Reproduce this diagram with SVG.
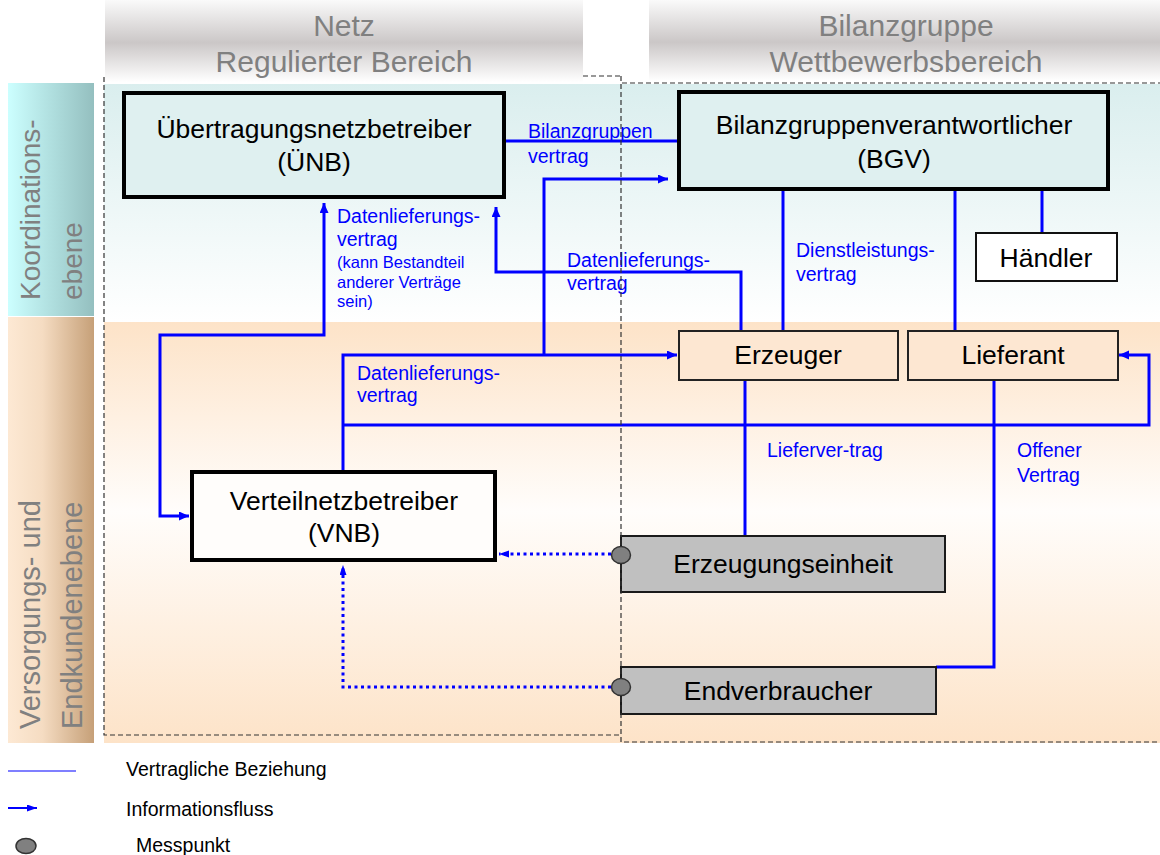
<svg xmlns="http://www.w3.org/2000/svg" width="1160" height="855" viewBox="0 0 1160 855">
<style>
.hdr{font-family:"Liberation Sans",Arial,sans-serif;font-size:30px;fill:#808080;text-anchor:middle}
.side{font-family:"Liberation Sans",Arial,sans-serif;fill:#808080}
.box{font-family:"Liberation Sans",Arial,sans-serif;font-size:26.5px;fill:#000;text-anchor:middle}
.lbl{font-family:"Liberation Sans",Arial,sans-serif;font-size:19.5px;fill:#0000ff}
.sm{font-family:"Liberation Sans",Arial,sans-serif;font-size:16.5px;fill:#0000ff}
.leg{font-family:"Liberation Sans",Arial,sans-serif;font-size:19.5px;fill:#000}
.c{fill:none;stroke:#0000ff;stroke-width:3}
.d{fill:none;stroke:#0000ff;stroke-width:3;stroke-dasharray:3 3.5}
.dash{fill:none;stroke:#333;stroke-width:1.2;stroke-dasharray:5 3}
.mp{fill:#808080;stroke:#333;stroke-width:1.5}
</style>
<defs>
<linearGradient id="gHdr" x1="0" y1="0" x2="0" y2="1">
<stop offset="0" stop-color="#fafafa"/><stop offset="0.52" stop-color="#cbc7c7"/><stop offset="1" stop-color="#ffffff"/>
</linearGradient>
<linearGradient id="gTop" x1="0" y1="0" x2="0" y2="1">
<stop offset="0" stop-color="#daeeee"/><stop offset="1" stop-color="#ffffff"/>
</linearGradient>
<linearGradient id="gBot" x1="0" y1="0" x2="0" y2="1">
<stop offset="0" stop-color="#fde3c8"/><stop offset="0.45" stop-color="#fffdfb"/><stop offset="1" stop-color="#fde3c8"/>
</linearGradient>
<linearGradient id="gSideTop" x1="0" y1="0" x2="1" y2="0">
<stop offset="0" stop-color="#ccffff"/><stop offset="1" stop-color="#94bfbf"/>
</linearGradient>
<linearGradient id="gSideBot" x1="0" y1="0" x2="1" y2="0">
<stop offset="0" stop-color="#fde9d4"/><stop offset="0.4" stop-color="#f5dcc2"/><stop offset="1" stop-color="#c6a078"/>
</linearGradient>
<marker id="ah" markerUnits="userSpaceOnUse" markerWidth="11" markerHeight="10" refX="10" refY="4.5" orient="auto-start-reverse">
<path d="M0,0 L10,4.5 L0,9 z" fill="#0000ff"/>
</marker>
<marker id="ahs" markerUnits="userSpaceOnUse" markerWidth="11" markerHeight="8" refX="10" refY="3.5" orient="auto">
<path d="M0,0 L10,3.5 L0,7 z" fill="#0000ff"/>
</marker>
</defs>

<g id="backgrounds">
<rect x="104" y="84" width="1056" height="238" fill="url(#gTop)"/>
<rect x="104" y="322" width="1056" height="421" fill="url(#gBot)"/>
<rect x="8" y="83" width="86" height="233" fill="url(#gSideTop)"/>
<rect x="8" y="317" width="86" height="426" fill="url(#gSideBot)"/>
</g>

<g id="headers">
<rect x="105" y="0" width="478" height="82" fill="url(#gHdr)"/>
<text class="hdr" x="344" y="36">Netz</text>
<text class="hdr" x="344" y="72">Regulierter Bereich</text>
<rect x="649" y="0" width="511" height="81" fill="url(#gHdr)"/>
<text class="hdr" x="906" y="36">Bilanzgruppe</text>
<text class="hdr" x="906" y="72">Wettbewerbsbereich</text>
</g>

<g id="side-labels">
<text class="side" font-size="28" transform="translate(40,300) rotate(-90)">Koordinations-</text>
<text class="side" font-size="28" transform="translate(82,300) rotate(-90)">ebene</text>
<text class="side" font-size="29" transform="translate(40,729) rotate(-90)">Versorgungs- und</text>
<text class="side" font-size="29" transform="translate(82,729) rotate(-90)">Endkundenebene</text>
</g>

<g id="connectors">
<path class="c" d="M506,141 H678"/>
<path class="c" d="M324,203 V335 H160 V516 H189" marker-start="url(#ah)" marker-end="url(#ah)"/>
<path class="c" d="M741,331 V272 H496 V207" marker-end="url(#ah)"/>
<path class="c" d="M343,471 V355 H677" marker-end="url(#ah)"/>
<path class="c" d="M544,355 V179 H668" marker-end="url(#ah)"/>
<path class="c" d="M343,425 H1149 V355 H1119" marker-end="url(#ah)"/>
<path class="c" d="M783,190 V331"/>
<path class="c" d="M955,190 V331"/>
<path class="c" d="M1042,190 V233"/>
<path class="c" d="M745,380 V536"/>
<path class="c" d="M994,380 V667 H936"/>
<path class="d" d="M611,554 H499" marker-end="url(#ahs)"/>
<path class="d" d="M611,687 H343 V565" marker-end="url(#ahs)"/>
</g>

<g id="connector-labels">
<text class="lbl" x="528" y="138">Bilanzgruppen</text>
<text class="lbl" x="528" y="163">vertrag</text>
<text class="lbl" x="337" y="223">Datenlieferungs-</text>
<text class="lbl" x="337" y="246">vertrag</text>
<text class="sm" x="337" y="268">(kann Bestandteil</text>
<text class="sm" x="337" y="288">anderer Verträge</text>
<text class="sm" x="337" y="307">sein)</text>
<text class="lbl" x="567" y="267">Datenlieferungs-</text>
<text class="lbl" x="567" y="290">vertrag</text>
<text class="lbl" x="357" y="380">Datenlieferungs-</text>
<text class="lbl" x="357" y="402">vertrag</text>
<text class="lbl" x="796" y="257">Dienstleistungs-</text>
<text class="lbl" x="796" y="281">vertrag</text>
<text class="lbl" x="767" y="457">Lieferver-trag</text>
<text class="lbl" x="1017" y="457">Offener</text>
<text class="lbl" x="1017" y="482">Vertrag</text>
</g>

<g id="node-uenb">
<rect x="124" y="93" width="380" height="104" fill="#dff0f0" stroke="#000" stroke-width="4"/>
<text class="box" x="314" y="138">Übertragungsnetzbetreiber</text>
<text class="box" x="314" y="171">(ÜNB)</text>
</g>
<g id="node-bgv">
<rect x="679" y="92" width="429" height="97" fill="#dff0f0" stroke="#000" stroke-width="4"/>
<text class="box" x="894" y="134">Bilanzgruppenverantwortlicher</text>
<text class="box" x="894" y="168">(BGV)</text>
</g>
<g id="node-haendler">
<rect x="976" y="233" width="141" height="48" fill="#ffffff" stroke="#111" stroke-width="2"/>
<text class="box" x="1046" y="267">Händler</text>
</g>
<g id="node-erzeuger">
<rect x="679" y="331" width="219" height="49" fill="#fde7d2" stroke="#222" stroke-width="2"/>
<text class="box" x="788" y="364">Erzeuger</text>
</g>
<g id="node-lieferant">
<rect x="908" y="331" width="210" height="49" fill="#fde7d2" stroke="#222" stroke-width="2"/>
<text class="box" x="1013" y="364">Lieferant</text>
</g>
<g id="node-vnb">
<rect x="192" y="472" width="303" height="88" fill="#fffdfb" stroke="#000" stroke-width="4"/>
<text class="box" x="344" y="510">Verteilnetzbetreiber</text>
<text class="box" x="344" y="542">(VNB)</text>
</g>
<g id="node-erzeugungseinheit">
<rect x="621" y="536" width="324" height="56" fill="#c0c0c0" stroke="#1a1a1a" stroke-width="2"/>
<text class="box" x="783" y="573">Erzeugungseinheit</text>
<ellipse class="mp" cx="621" cy="555" rx="9.5" ry="8.5"/>
</g>
<g id="node-endverbraucher">
<rect x="621" y="667" width="315" height="47" fill="#c0c0c0" stroke="#1a1a1a" stroke-width="2"/>
<text class="box" x="778" y="700">Endverbraucher</text>
<ellipse class="mp" cx="621" cy="687" rx="9.5" ry="8.5"/>
</g>

<g id="region-borders">
<path class="dash" d="M583,76 H621"/>
<path class="dash" d="M104,77 V735 H621"/>
<path class="dash" d="M621,76 V546 M621,565 V677 M621,697 V742 H1160"/>
<path class="dash" d="M622,83 H1160"/>
</g>

<g id="legend">
<line x1="8" y1="771" x2="76" y2="771" stroke="#0000ff" stroke-width="1.2"/>
<line x1="8" y1="808" x2="37" y2="808" stroke="#0000ff" stroke-width="2" marker-end="url(#ahs)"/>
<ellipse class="mp" cx="26" cy="846" rx="10" ry="7.5"/>
<text class="leg" x="126" y="776">Vertragliche Beziehung</text>
<text class="leg" x="126" y="816">Informationsfluss</text>
<text class="leg" x="136" y="852">Messpunkt</text>
</g>
</svg>
